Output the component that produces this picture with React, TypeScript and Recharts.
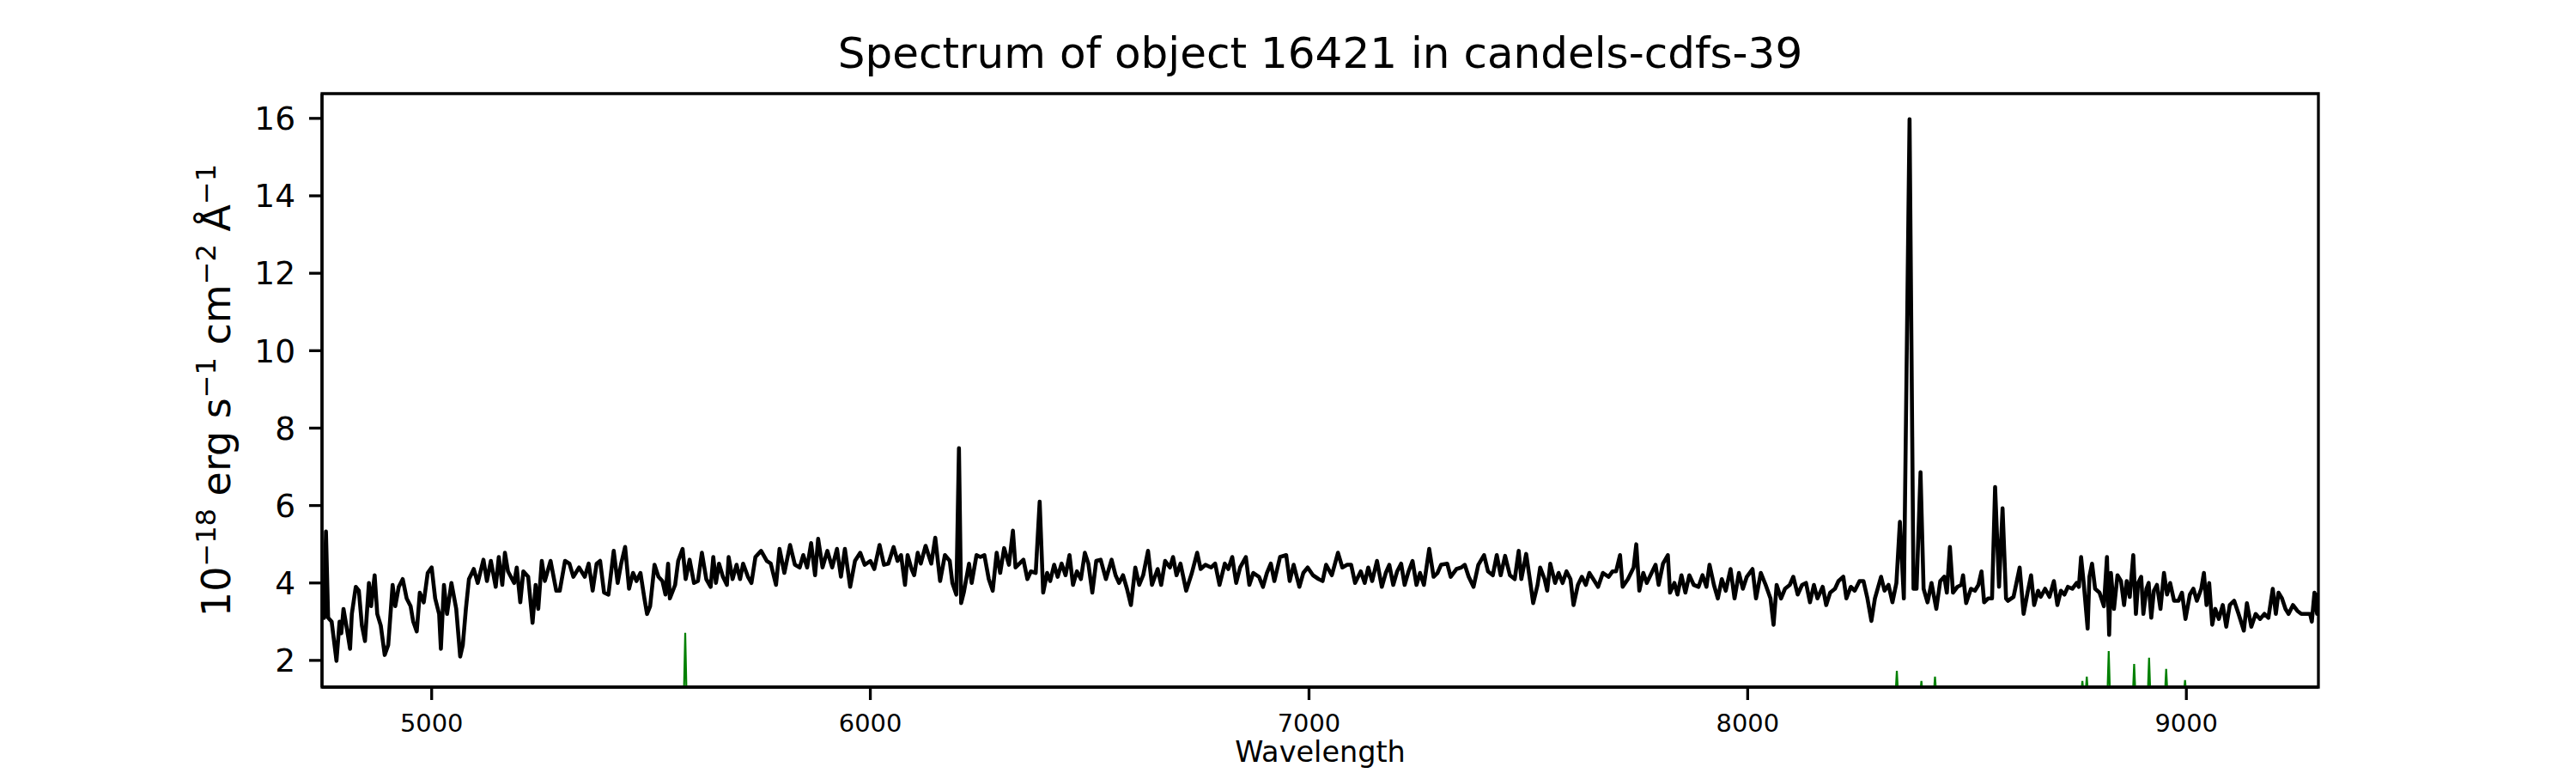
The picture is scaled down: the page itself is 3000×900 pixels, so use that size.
import { LineChart, Line, XAxis, YAxis, ReferenceArea } from "recharts";

const SPEC_BLUE: [number, number][] = [
  [4751, 3.2], [4755, 3.1], [4759, 5.33], [4764, 3.1], [4772, 3.0], [4783, 1.99], [4790, 3.0], [4794, 2.7],
  [4799, 3.33], [4807, 2.8], [4814, 2.3], [4818, 3.2], [4827, 3.9], [4834, 3.8], [4841, 2.9], [4848, 2.5],
  [4857, 4.0], [4862, 3.4], [4870, 4.2], [4876, 3.2], [4884, 2.9], [4893, 2.14], [4901, 2.4], [4911, 3.95],
  [4917, 3.4], [4925, 3.9], [4934, 4.1], [4943, 3.6], [4952, 3.4], [4958, 3.0], [4966, 2.75], [4973, 3.75],
  [4982, 3.5], [4991, 4.26], [5000, 4.4], [5008, 3.6], [5017, 3.2], [5021, 2.3], [5028, 3.95], [5035, 3.2],
  [5045, 4.0], [5056, 3.33], [5065, 2.1], [5071, 2.4], [5078, 3.33], [5085, 4.1], [5096, 4.36], [5105, 4.0],
  [5118, 4.6], [5126, 4.05], [5135, 4.57], [5146, 3.9], [5153, 4.67], [5161, 3.95], [5167, 4.78], [5174, 4.3],
  [5188, 4.0], [5194, 4.4], [5202, 3.5], [5209, 4.3], [5220, 4.16], [5230, 2.97], [5237, 3.95], [5243, 3.33],
  [5251, 4.57], [5258, 4.05], [5271, 4.57], [5284, 3.8], [5292, 3.8], [5304, 4.57], [5314, 4.5], [5323, 4.16],
  [5336, 4.4], [5349, 4.16], [5358, 4.5], [5367, 3.8], [5376, 4.5], [5384, 4.57], [5393, 3.75], [5403, 3.7],
  [5415, 4.83], [5424, 4.0], [5432, 4.5], [5441, 4.93], [5450, 3.85], [5459, 4.26], [5467, 4.05], [5476, 4.26],
  [5485, 3.6], [5491, 3.2], [5498, 3.4], [5508, 4.47], [5517, 4.16], [5526, 4.05], [5533, 3.7], [5539, 4.5],
  [5543, 3.6], [5555, 3.95], [5562, 4.57], [5572, 4.88], [5579, 4.1], [5588, 4.6], [5598, 4.0], [5607, 4.05],
  [5616, 4.78], [5626, 4.1], [5636, 3.9], [5642, 4.67], [5648, 4.0], [5655, 4.5], [5664, 4.16], [5673, 3.95],
  [5677, 4.67], [5686, 4.1], [5695, 4.47], [5703, 4.1], [5710, 4.5], [5721, 4.16], [5729, 4.0], [5738, 4.67],
  [5751, 4.83], [5764, 4.57], [5773, 4.5], [5785, 3.95], [5793, 4.88], [5804, 4.26], [5817, 4.98], [5828, 4.47],
  [5839, 4.4], [5847, 4.72], [5856, 4.4], [5865, 5.03], [5874, 4.2], [5881, 5.14], [5891, 4.4], [5902, 4.83],
  [5913, 4.4], [5924, 4.88], [5933, 4.16], [5942, 4.88], [5954, 3.9], [5965, 4.57], [5977, 4.78], [5987, 4.47],
  [6000, 4.57], [6009, 4.36], [6021, 4.98], [6031, 4.47], [6041, 4.5], [6053, 4.93], [6062, 4.57], [6070, 4.72],
  [6079, 3.95],
];

const SPEC_MID: [number, number][] = [
  [6085, 4.72], [6094, 4.36], [6100, 4.2], [6108, 4.78], [6115, 4.5], [6126, 4.96], [6139, 4.5], [6148, 5.17],
  [6159, 4.05], [6170, 4.72], [6181, 4.57], [6187, 4.0], [6196, 3.7], [6202, 7.48], [6207, 3.48], [6213, 3.75],
  [6225, 4.5], [6231, 4.0], [6242, 4.72], [6251, 4.67], [6260, 4.72], [6270, 4.1], [6279, 3.8], [6288, 4.78],
  [6296, 4.26], [6305, 4.9], [6316, 4.47], [6325, 5.35], [6331, 4.4], [6340, 4.5], [6349, 4.6], [6358, 4.1],
  [6366, 4.3], [6377, 4.26], [6386, 6.1], [6394, 3.75], [6403, 4.26], [6410, 4.05], [6419, 4.47], [6427, 4.16],
  [6436, 4.5], [6445, 4.2], [6454, 4.72], [6462, 3.95], [6471, 4.3], [6480, 4.1], [6489, 4.78], [6497, 4.5],
  [6506, 3.75], [6515, 4.57], [6525, 4.6], [6537, 4.1], [6550, 4.6], [6559, 4.2], [6567, 4.0], [6576, 4.2],
  [6585, 3.85], [6594, 3.43], [6604, 4.4], [6613, 3.95], [6622, 4.2], [6633, 4.83], [6642, 3.95], [6655, 4.36],
  [6663, 3.95], [6672, 4.57], [6683, 4.4], [6690, 4.67], [6698, 4.2], [6707, 4.5], [6720, 3.8], [6733, 4.26],
  [6745, 4.78], [6753, 4.36], [6764, 4.47], [6777, 4.4], [6786, 4.5], [6796, 3.95], [6808, 4.5], [6816, 4.36],
  [6825, 4.67], [6834, 4.0], [6843, 4.4], [6856, 4.67], [6864, 3.95], [6873, 4.26], [6886, 4.16], [6895, 3.9],
  [6904, 4.26], [6913, 4.5], [6921, 4.05], [6934, 4.67], [6948, 4.72], [6956, 4.05], [6965, 4.47], [6978, 3.9],
  [6987, 4.26], [6997, 4.4], [7009, 4.2], [7022, 4.1], [7031, 4.05], [7039, 4.47], [7052, 4.2], [7066, 4.78],
  [7076, 4.4], [7087, 4.47], [7096, 4.47], [7105, 4.0], [7118, 4.3], [7127, 4.0], [7135, 4.4], [7144, 4.05],
  [7155, 4.57], [7166, 3.9], [7175, 4.26], [7183, 4.47], [7192, 3.95], [7201, 4.3], [7210, 4.5], [7218, 3.95],
  [7227, 4.3], [7236, 4.57], [7245, 3.95], [7253, 4.26], [7262, 3.95], [7274, 4.88], [7284, 4.16], [7293, 4.26],
  [7301, 4.47], [7315, 4.5], [7323, 4.16], [7336, 4.36],
];

const SPEC_RED: [number, number][] = [
  [7347, 4.4], [7355, 4.47], [7364, 4.16], [7375, 3.9], [7386, 4.47], [7399, 4.72], [7408, 4.3], [7419, 4.2],
  [7428, 4.72], [7437, 4.2], [7447, 4.7], [7458, 4.2], [7469, 4.1], [7478, 4.83], [7484, 4.1], [7495, 4.75],
  [7504, 4.05], [7511, 3.48], [7521, 3.95], [7527, 4.4], [7537, 4.1], [7543, 3.8], [7550, 4.5], [7561, 4.0],
  [7569, 4.26], [7578, 4.0], [7587, 4.3], [7596, 4.1], [7603, 3.43], [7613, 3.95], [7622, 4.16], [7631, 3.95],
  [7639, 4.26], [7648, 4.1], [7659, 3.9], [7670, 4.26], [7683, 4.16], [7692, 4.3], [7700, 4.3], [7709, 4.72],
  [7715, 3.9], [7727, 4.1], [7740, 4.4], [7746, 5.0], [7753, 3.8], [7762, 4.26], [7770, 4.0], [7781, 4.26],
  [7790, 4.47], [7797, 3.95], [7807, 4.5], [7818, 4.72], [7823, 3.75], [7833, 4.0], [7840, 3.7], [7849, 4.2],
  [7858, 3.75], [7867, 4.2], [7877, 3.95], [7888, 3.9], [7897, 4.2], [7906, 3.9], [7913, 4.47], [7923, 3.95],
  [7932, 3.6], [7941, 4.1], [7950, 3.8], [7961, 4.36], [7970, 3.6], [7980, 4.26], [7989, 3.85], [7998, 4.16],
  [8011, 4.36], [8019, 3.6], [8030, 4.26], [8041, 3.95], [8052, 3.6], [8059, 2.92], [8066, 3.95], [8076, 3.6],
  [8085, 3.85], [8096, 3.95], [8104, 4.16], [8114, 3.7], [8124, 3.95], [8133, 4.0], [8142, 3.5], [8151, 3.95],
  [8159, 3.6], [8171, 3.9], [8179, 3.43], [8188, 3.75], [8199, 3.85], [8207, 4.05], [8218, 4.16], [8225, 3.6],
  [8235, 3.9], [8244, 3.8], [8255, 4.05], [8264, 4.05], [8273, 3.6], [8282, 3.02], [8290, 3.6], [8304, 4.16],
  [8312, 3.8], [8321, 3.95], [8330, 3.5], [8339, 4.0], [8347, 5.58], [8356, 3.6], [8369, 15.98], [8378, 3.85],
  [8385, 3.85], [8394, 6.86], [8401, 3.85], [8410, 3.5], [8419, 4.0], [8430, 3.33], [8439, 4.05], [8448, 4.16],
  [8454, 3.75], [8461, 4.93], [8468, 3.75], [8478, 3.9], [8487, 3.95], [8491, 4.2], [8498, 3.48], [8509, 3.85],
  [8518, 3.8], [8526, 3.95], [8533, 4.3], [8539, 3.5], [8548, 3.6], [8557, 3.6], [8564, 6.48], [8573, 3.9],
  [8581, 5.93], [8589, 3.6], [8593, 3.54], [8606, 3.64], [8620, 4.4], [8629, 3.2], [8638, 3.75], [8646, 4.2],
  [8653, 3.43], [8662, 3.8], [8668, 3.64], [8678, 3.85], [8688, 3.64], [8698, 4.05], [8706, 3.43], [8714, 3.8],
  [8722, 3.7], [8730, 3.9], [8740, 3.85], [8750, 4.0], [8755, 3.9], [8760, 4.67], [8766, 4.0], [8775, 2.82],
  [8779, 4.16], [8785, 4.5], [8792, 3.85], [8802, 3.75], [8812, 3.4], [8819, 4.67], [8824, 2.66], [8828, 4.26],
  [8835, 3.33], [8843, 4.2], [8851, 4.05], [8858, 3.43], [8864, 4.05], [8871, 3.64], [8879, 4.72], [8885, 3.2],
  [8890, 4.0], [8897, 4.16], [8902, 3.2], [8909, 3.85], [8914, 4.0], [8920, 3.1], [8926, 3.8], [8933, 3.95],
  [8941, 3.33], [8949, 4.26], [8956, 3.7], [8963, 4.0], [8972, 3.54], [8982, 3.54], [8990, 3.75], [8998, 3.07],
  [9008, 3.7], [9016, 3.85], [9024, 3.54], [9034, 3.85], [9040, 4.26], [9046, 3.43], [9052, 4.0], [9059, 2.92],
  [9066, 3.33], [9074, 3.07], [9083, 3.43], [9091, 2.87], [9099, 3.43], [9109, 3.54], [9119, 3.2], [9131, 2.77],
  [9138, 3.48], [9148, 2.87], [9158, 3.2], [9168, 3.07], [9178, 3.2], [9187, 3.1], [9197, 3.85], [9204, 3.2],
  [9210, 3.75], [9218, 3.6], [9226, 3.33], [9233, 3.2], [9243, 3.43], [9253, 3.28], [9262, 3.2], [9272, 3.2],
  [9282, 3.2], [9286, 3.0], [9292, 3.75], [9298, 3.2], [9301, 3.75],
];

// sky emission lines: [wavelength, peak]
const SKY_LINES: [number, number][] = [
  [5578, 2.71], [8340, 1.73], [8396, 1.47], [8427, 1.58], [8461, 1.35], [8763, 1.47],
  [8773, 1.58], [8823, 2.24], [8881, 1.91], [8915, 2.07], [8954, 1.78], [8997, 1.49],
];
const SKY_BASE = 1.1;

const X_DOMAIN: [number, number] = [4750, 9301];
const Y_DOMAIN: [number, number] = [1.31, 16.64];
const X_TICKS = [5000, 6000, 7000, 8000, 9000];
const Y_TICKS = [2, 4, 6, 8, 10, 12, 14, 16];

const TITLE = "Spectrum of object 16421 in candels-cdfs-39";
const X_LABEL = "Wavelength";

const FONT = "'DejaVu Sans', sans-serif";

const spectrum = [...SPEC_BLUE, ...SPEC_MID, ...SPEC_RED].map(([w, f]) => ({ w, f }));

const sky = [
  { w: X_DOMAIN[0], s: SKY_BASE },
  ...SKY_LINES.flatMap(([w, p]) => [
    { w: w - 3, s: SKY_BASE },
    { w, s: p },
    { w: w + 3, s: SKY_BASE },
  ]),
  { w: X_DOMAIN[1], s: SKY_BASE },
];

function YLabel({ viewBox }: any) {
  const cx = 268;
  const cy = viewBox.y + viewBox.height / 2;
  const sup = { fontSize: 32 };
  return (
    <text
      x={cx}
      y={cy}
      transform={`rotate(-90, ${cx}, ${cy})`}
      textAnchor="middle"
      fontFamily={FONT}
      fontSize={46}
      fill="#000"
    >
      <tspan>10</tspan>
      <tspan {...sup} dy={-17}>−18</tspan>
      <tspan dy={17}> erg s</tspan>
      <tspan {...sup} dy={-17}>−1</tspan>
      <tspan dy={17}> cm</tspan>
      <tspan {...sup} dy={-17}>−2</tspan>
      <tspan dy={17}> Å</tspan>
      <tspan {...sup} dy={-17}>−1</tspan>
    </text>
  );
}

function XLabel({ viewBox }: any) {
  return (
    <text
      x={viewBox.x + viewBox.width / 2}
      y={viewBox.y + 87}
      textAnchor="middle"
      fontFamily={FONT}
      fontSize={33.5}
      fill="#000"
    >
      {X_LABEL}
    </text>
  );
}

export default function App() {
  return (
    <div style={{ position: "absolute", left: 0, top: 0, width: 3000, height: 900, background: "#fff" }}>
      <div
        style={{
          position: "absolute",
          left: 375,
          width: 2325,
          top: 83 - 50 * 0.93,
          textAlign: "center",
          fontFamily: FONT,
          fontSize: 50,
          lineHeight: 1,
          color: "#000",
          whiteSpace: "nowrap",
        }}
      >
        {TITLE}
      </div>
      <LineChart
        width={3000}
        height={900}
        margin={{ top: 109, right: 300, bottom: 0, left: 275 }}
        style={{ position: "absolute", left: 0, top: 0 }}
      >
        <XAxis
          type="number"
          dataKey="w"
          domain={X_DOMAIN}
          allowDataOverflow
          ticks={X_TICKS}
          height={100}
          tickSize={15}
          tickMargin={16}
          axisLine={{ stroke: "#000", strokeWidth: 3.3 }}
          tickLine={{ stroke: "#000", strokeWidth: 3.3 }}
          tick={{ fill: "#000", fontSize: 28.9, fontFamily: FONT }}
          label={<XLabel />}
        />
        <YAxis
          type="number"
          domain={Y_DOMAIN}
          allowDataOverflow
          ticks={Y_TICKS}
          width={100}
          tickSize={15}
          tickMargin={16}
          axisLine={{ stroke: "#000", strokeWidth: 3.3 }}
          tickLine={{ stroke: "#000", strokeWidth: 3.3 }}
          tick={{ fill: "#000", fontSize: 37.5, fontFamily: FONT }}
          label={<YLabel />}
        />
        <Line
          data={spectrum}
          dataKey="f"
          type="linear"
          stroke="#000"
          strokeWidth={4.6}
          strokeLinejoin="round"
          dot={false}
          activeDot={false}
          isAnimationActive={false}
        />
        <Line
          data={sky}
          dataKey="s"
          type="linear"
          stroke="#008000"
          strokeWidth={2.2}
          dot={false}
          activeDot={false}
          isAnimationActive={false}
        />
        <ReferenceArea
          x1={X_DOMAIN[0]}
          x2={X_DOMAIN[1]}
          y1={Y_DOMAIN[0]}
          y2={Y_DOMAIN[1]}
          fill="none"
          fillOpacity={0}
          stroke="#000"
          strokeWidth={3.3}
          ifOverflow="visible"
        />
      </LineChart>
    </div>
  );
}
